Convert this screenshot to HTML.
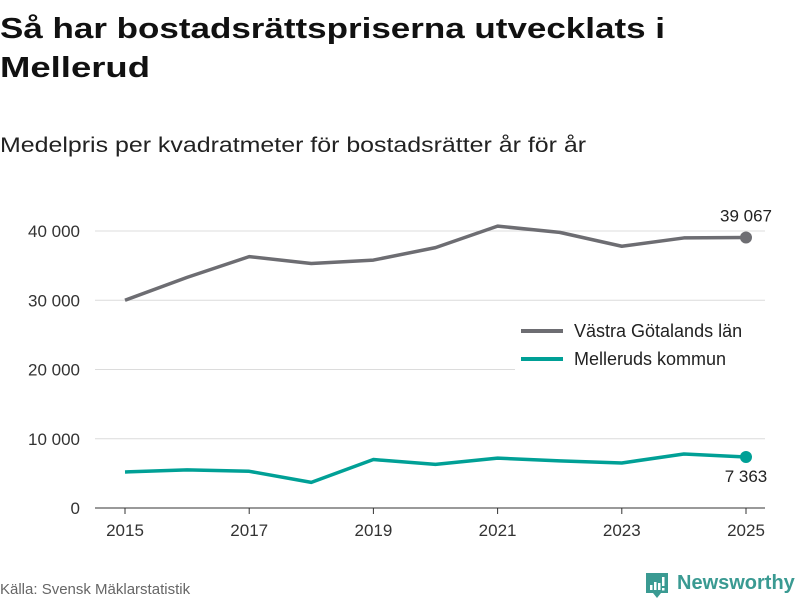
<!DOCTYPE html>
<html><head><meta charset="utf-8"><style>
html,body{margin:0;padding:0;background:#fff;width:800px;height:600px;overflow:hidden}
svg text{font-family:"Liberation Sans","DejaVu Sans",sans-serif}
</style></head><body>
<svg id="chart" width="800" height="600" viewBox="0 0 800 600" xmlns="http://www.w3.org/2000/svg">
<text x="0" y="38" font-size="29" font-weight="bold" fill="#111" textLength="665" lengthAdjust="spacingAndGlyphs">Så har bostadsrättspriserna utvecklats i</text>
<text x="0" y="77" font-size="29" font-weight="bold" fill="#111" textLength="150" lengthAdjust="spacingAndGlyphs">Mellerud</text>
<text x="0" y="152" font-size="21" fill="#222" textLength="586" lengthAdjust="spacingAndGlyphs">Medelpris per kvadratmeter för bostadsrätter år för år</text>
<g id="grid"></g>
<g id="axes"></g>
<g id="series"></g>
<g>
<rect x="515" y="315" width="250" height="60" fill="#fff"/>
<g>
<line x1="521" y1="331" x2="563" y2="331" stroke="#6d6d72" stroke-width="4"/>
<text x="574" y="337" font-size="18" fill="#222">Västra Götalands län</text></g>
<g>
<line x1="521" y1="359" x2="563" y2="359" stroke="#00a096" stroke-width="4"/>
<text x="574" y="365" font-size="18" fill="#222">Melleruds kommun</text></g>
</g>
<text x="0" y="594" font-size="15" fill="#666">Källa: Svensk Mäklarstatistik</text>
<g>
<path d="M646 573 h22 v20 h-7 l-4 5 l-4 -5 h-7z" fill="#3a9a92"/>
<rect x="650" y="585" width="2.5" height="5" fill="#fff"/><rect x="654" y="582" width="2.5" height="8" fill="#fff"/><rect x="658" y="583" width="2.5" height="7" fill="#fff"/><rect x="662" y="577" width="2.5" height="9" fill="#fff"/><rect x="662" y="588" width="2.5" height="2.5" fill="#fff"/>
<text x="677" y="589" font-size="20" font-weight="bold" fill="#3a9a92">Newsworthy</text>
</g>
</svg>
<script>
const years = [2015,2016,2017,2018,2019,2020,2021,2022,2023,2024,2025];
const vastraValues = [30000,33300,36300,35300,35800,37600,40700,39800,37800,39000,39067];
const melleurdValues = [5200,5500,5300,3700,7000,6300,7200,6800,6500,7800,7363];
const yTicks = [0,10000,20000,30000,40000];
const yTickLabels = ["0","10 000","20 000","30 000","40 000"];
const xTicks = [2015,2017,2019,2021,2023,2025];
const NS="http://www.w3.org/2000/svg";
const x = v => 125 + (v-2015)*(746-125)/10;
const y = v => 508 - v*(508-231)/40000;
function mk(tag, attrs, parent){const e=document.createElementNS(NS,tag);for(const k in attrs)e.setAttribute(k,attrs[k]);parent.appendChild(e);return e;}
const grid=document.getElementById('grid'), axes=document.getElementById('axes'), series=document.getElementById('series');
yTicks.forEach((t,i)=>{
  const l=mk('line',{x1:95,x2:765,y1:y(t),y2:y(t),stroke:t===0?'#333':'#dcdcdc','stroke-width':1},grid);
  
  
  const tx=mk('text',{x:80,y:y(t)+6,'font-size':17,fill:'#333','text-anchor':'end'},axes);
  tx.textContent=yTickLabels[i];
  
  
});
xTicks.forEach(t=>{
  const l=mk('line',{x1:x(t),x2:x(t),y1:508,y2:514,stroke:'#333'},axes);
  
  
  const tx=mk('text',{x:x(t),y:536,'font-size':17,fill:'#333','text-anchor':'middle'},axes);
  tx.textContent=t;
  
  
});
function drawSeries(vals,color,name,labelDy){
  const p=mk('polyline',{points:vals.map((v,i)=>x(years[i])+','+y(v)).join(' '),fill:'none',stroke:color,'stroke-width':3.5,'stroke-linejoin':'round'},series);
  
  
  const last=vals.length-1;
  const c=mk('circle',{cx:x(years[last]),cy:y(vals[last]),r:6,fill:color},series);
  
  
  const t=mk('text',{x:x(years[last]),y:y(vals[last])+labelDy,'font-size':17,fill:'#222','text-anchor':'middle'},series);
  t.textContent=String(vals[last]).replace(/\B(?=(\d{3})+(?!\d))/g,' ');
  
  
}
drawSeries(vastraValues,'#6d6d72','vastra',-16);
drawSeries(melleurdValues,'#00a096','mellerud',25);
</script>
</body></html>
